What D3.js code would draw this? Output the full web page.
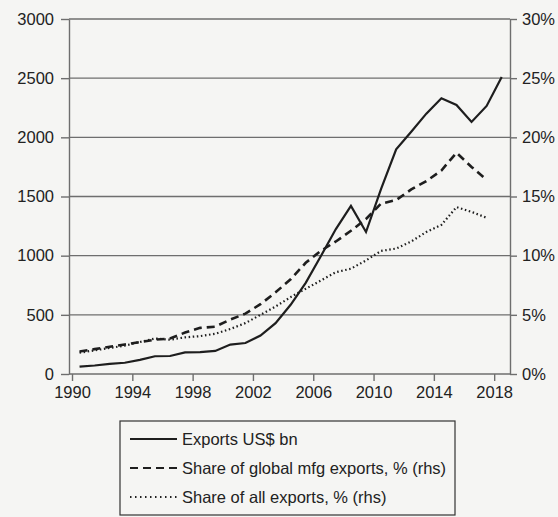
<!DOCTYPE html>
<html>
<head>
<meta charset="utf-8">
<script src="https://cdn.jsdelivr.net/npm/d3@7"></script>
<style>
  body { margin: 0; background: #f5f5f3; }
  svg { font-family: "Liberation Sans", Arial, sans-serif; }
</style>
</head>
<body>
<div id="canvas"></div>
<script>
const width = 558;
const height = 517;
const margin = { top: 19, left: 69, bottom: 143, right: 48 };
const iwidth = width - margin.left - margin.right;
const iheight = height - margin.top - margin.bottom;

// data
const years = d3.range(1990, 2019);
const exportsBn = [62, 72, 85, 95, 120, 150, 152, 182, 185, 195, 249, 262, 325, 430,
  585, 770, 995, 1225, 1420, 1200, 1565, 1898, 2047, 2200, 2330, 2273, 2130, 2265, 2510];
const shareMfg = [1.9, 2.1, 2.3, 2.5, 2.7, 2.9, 3.0, 3.5, 3.9, 4.0, 4.6, 5.1, 5.9, 6.9,
  8.0, 9.4, 10.4, 11.2, 12.1, 13.1, 14.4, 14.7, 15.6, 16.3, 17.2, 18.7, 17.5, 16.4];
const shareAll = [1.8, 2.0, 2.2, 2.4, 2.7, 3.0, 2.9, 3.1, 3.2, 3.4, 3.8, 4.3, 5.0, 5.7,
  6.5, 7.2, 7.9, 8.6, 8.9, 9.6, 10.4, 10.6, 11.2, 12.0, 12.6, 14.1, 13.7, 13.2];
const xTicks = d3.range(1990, 2019, 4);
const yTicks = [0, 500, 1000, 1500, 2000, 2500, 3000];
const y2Ticks = [0, 5, 10, 15, 20, 25, 30];
const legendLabels = ["Exports US$ bn", "Share of global mfg exports, % (rhs)", "Share of all exports, % (rhs)"];

const svg = d3.select("#canvas").append("svg")
  .attr("width", width)
  .attr("height", height);

const g = svg.append("g")
  .attr("transform", `translate(${margin.left},${margin.top})`);

const x = d3.scaleLinear().domain([1989.8, 2019.05]).range([0, iwidth]);
const y = d3.scaleLinear().domain([0, 3000]).range([iheight, 0]);
const y2 = d3.scaleLinear().domain([0, 30]).range([iheight, 0]);

const axisColor = "#6e6e6e";
const fontSize = "16.5px";

// gridlines
g.append("g")
  .selectAll("line")
  .data(yTicks.slice(1))
  .enter()
  .append("line")
  .attr("x1", 0)
  .attr("x2", iwidth)
  .attr("y1", (d) => y(d))
  .attr("y2", (d) => y(d))
  .attr("stroke", axisColor)
  .attr("stroke-width", 1.3);

function styleAxis(sel) {
  sel.select(".domain").attr("stroke", axisColor).attr("stroke-width", 1.4);
  sel.selectAll(".tick line").attr("stroke", axisColor).attr("stroke-width", 1.4);
  sel.selectAll(".tick text").attr("fill", "#222").style("font-size", fontSize);
}

g.append("g")
  .classed("y--axis", true)
  .call(d3.axisLeft(y).tickValues(yTicks).tickSize(8).tickSizeOuter(0).tickPadding(7)
    .tickFormat(d3.format("d")))
  .call(styleAxis);

g.append("g")
  .classed("y2--axis", true)
  .attr("transform", `translate(${iwidth},0)`)
  .call(d3.axisRight(y2).tickValues(y2Ticks).tickSize(7).tickSizeOuter(0).tickPadding(5)
    .tickFormat((d) => d + "%"))
  .call(styleAxis);

g.append("g")
  .classed("x--axis", true)
  .attr("transform", `translate(0,${iheight})`)
  .call(d3.axisBottom(x).tickValues(xTicks).tickSize(7).tickSizeOuter(0).tickPadding(5)
    .tickFormat(d3.format("d")))
  .call(styleAxis);

g.select(".x--axis .domain").attr("d", `M0,0H${iwidth}`);

// series, plotted mid-year
const line = (scale, values) => d3.line()
  .x((d, i) => x(years[i] + 0.5))
  .y((d) => scale(d))(values);

g.append("path")
  .attr("d", line(y, exportsBn))
  .attr("fill", "none")
  .attr("stroke", "#1e1e1e")
  .attr("stroke-width", 2.2);

g.append("path")
  .attr("d", line(y2, shareMfg))
  .attr("fill", "none")
  .attr("stroke", "#1e1e1e")
  .attr("stroke-width", 2.6)
  .attr("stroke-dasharray", "8,5");

g.append("path")
  .attr("d", line(y2, shareAll))
  .attr("fill", "none")
  .attr("stroke", "#1e1e1e")
  .attr("stroke-width", 2.2)
  .attr("stroke-dasharray", "1.5,2.6");

// legend
const legend = svg.append("g").attr("transform", "translate(120,421)");
legend.append("rect")
  .attr("width", 335)
  .attr("height", 94)
  .attr("fill", "none")
  .attr("stroke", "#333")
  .attr("stroke-width", 1.2);

const dashes = [null, "8,5", "1.5,3.5"];
legendLabels.forEach((label, i) => {
  const ly = 18 + i * 29;
  legend.append("line")
    .attr("x1", 10)
    .attr("x2", 57)
    .attr("y1", ly)
    .attr("y2", ly)
    .attr("stroke", "#1e1e1e")
    .attr("stroke-width", i === 2 ? 1.8 : 2)
    .attr("stroke-dasharray", dashes[i]);
  legend.append("text")
    .attr("x", 62)
    .attr("y", ly + 6)
    .attr("fill", "#222")
    .style("font-size", fontSize)
    .text(label);
});
</script>
</body>
</html>
